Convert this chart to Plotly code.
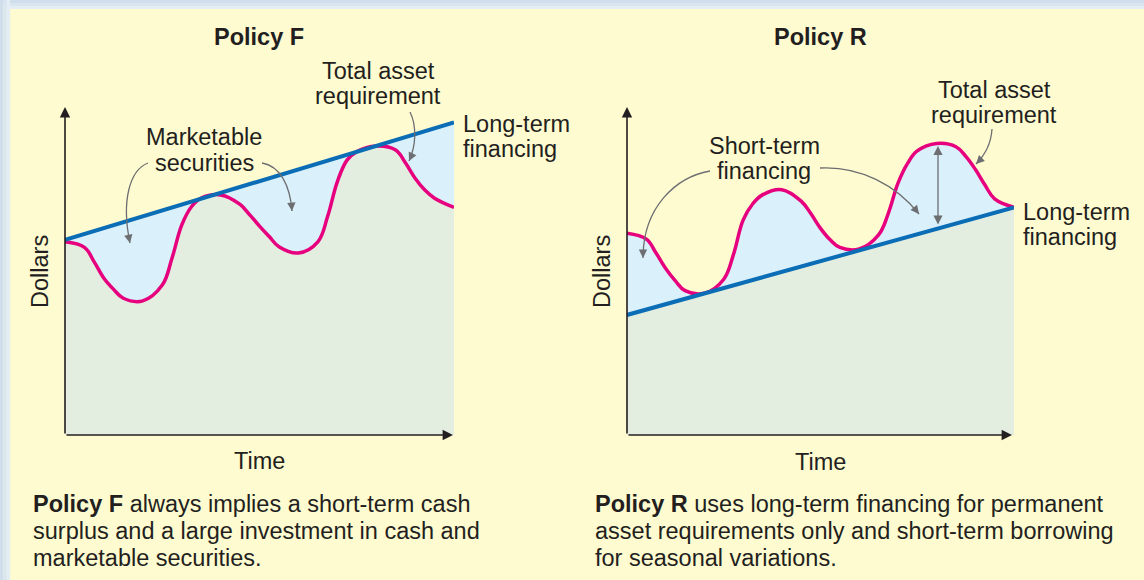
import plotly.graph_objects as go

# Policy F: total asset requirement
time_f = [0, 0.5, 0.75, 1, 1.25, 1.5, 2, 2.5, 2.75, 3, 3.25, 3.5, 4, 4.5, 4.75, 5, 5.25, 5.5,
          6, 6.5, 6.75, 7, 7.25, 7.5, 8, 8.5, 8.75, 9, 9.25, 9.5, 10]
assets_f = [5.89, 5.72, 5.28, 4.78, 4.44, 4.17, 4.09, 4.57, 5.39, 6.40, 6.96, 7.22, 7.32, 7.03,
            6.71, 6.37, 6.05, 5.74, 5.55, 5.89, 6.66, 7.72, 8.38, 8.64, 8.81, 8.69, 8.30, 7.83,
            7.47, 7.22, 6.94]
line_time_f = [0, 10]
longterm_f = [5.95, 9.53]

# Policy R
time_r = [0, 0.5, 0.75, 1, 1.25, 1.5, 2, 2.5, 2.75, 3, 3.25, 3.5, 4, 4.5, 4.75, 5, 5.25, 5.5,
          6, 6.5, 6.75, 7, 7.25, 7.5, 8, 8.5, 8.75, 9, 9.25, 9.5, 10]
assets_r = [6.15, 5.97, 5.55, 5.08, 4.70, 4.40, 4.32, 4.75, 5.50, 6.55, 7.05, 7.32, 7.48, 7.13,
            6.75, 6.30, 5.95, 5.72, 5.67, 6.10, 6.75, 7.67, 8.28, 8.66, 8.89, 8.79, 8.50, 8.10,
            7.62, 7.20, 6.94]
line_time_r = [0, 10]
longterm_r = [3.66, 6.94]

captions_f = ["<b>Policy F</b> always implies a short-term cash",
              "surplus and a large investment in cash and",
              "marketable securities."]
captions_r = ["<b>Policy R</b> uses long-term financing for permanent",
              "asset requirements only and short-term borrowing",
              "for seasonal variations."]

W, H = 1144, 580
YELLOW = "#fffbd0"
LIGHTBLUE = "#daf0fb"
GREEN = "#e3eee0"
PINK = "#e6007e"
BLUE = "#0b6db5"
INK = "#231f20"
GRAY = "#6d6e71"
FONT = "Liberation Sans, Arial, sans-serif"
FS = 23.5


def px(x):
    return x / W


def py(y):
    return 1 - y / H


fig = go.Figure()

# Policy F: blue band between long-term line and requirement, green below requirement
fig.add_trace(go.Scatter(x=line_time_f, y=longterm_f, mode="lines", fill="tozeroy",
                         fillcolor=LIGHTBLUE, line=dict(width=0), xaxis="x", yaxis="y"))
fig.add_trace(go.Scatter(x=time_f, y=assets_f, mode="lines", fill="tozeroy", fillcolor=GREEN,
                         line=dict(color=PINK, width=3.5, shape="spline", smoothing=1.1),
                         xaxis="x", yaxis="y"))
fig.add_trace(go.Scatter(x=line_time_f, y=longterm_f, mode="lines",
                         line=dict(color=BLUE, width=4), xaxis="x", yaxis="y"))

# Policy R
fig.add_trace(go.Scatter(x=time_r, y=assets_r, mode="lines", fill="tozeroy", fillcolor=LIGHTBLUE,
                         line=dict(color=PINK, width=3.5, shape="spline", smoothing=1.1),
                         xaxis="x2", yaxis="y2"))
fig.add_trace(go.Scatter(x=line_time_r, y=longterm_r, mode="lines", fill="tozeroy", fillcolor=GREEN,
                         line=dict(color=BLUE, width=4), xaxis="x2", yaxis="y2"))

ann = []


def text(s, x, y, xanchor="center", bold=False, angle=0):
    ann.append(dict(text=f"<b>{s}</b>" if bold else s, x=px(x), y=py(y), xref="paper", yref="paper",
                    xanchor=xanchor, yanchor="middle", showarrow=False, textangle=angle,
                    font=dict(family=FONT, size=FS, color=INK)))


def head(x, y, cx, cy, color=GRAY, width=1.2, size=1.4):
    # arrowhead at (x, y) pointing away from (cx, cy), pixel coords
    dx, dy = cx - x, cy - y
    n = (dx * dx + dy * dy) ** 0.5
    ann.append(dict(text="", x=px(x), y=py(y), xref="paper", yref="paper", showarrow=True,
                    ax=dx / n * 7, ay=dy / n * 7, arrowhead=2, arrowsize=size, arrowwidth=width,
                    arrowcolor=color, standoff=0))


shapes = []
# outer frame (light blue edge)
for i, c in enumerate(["#cfdeea", "#d9e6f0", "#e4edf4"]):
    shapes.append(dict(type="rect", xref="paper", yref="paper", x0=px(i * 3.4), x1=px(i * 3.4 + 3.4),
                       y0=0, y1=1, line=dict(width=0), fillcolor=c, layer="below"))
    shapes.append(dict(type="rect", xref="paper", yref="paper", x0=px(i * 3.4), x1=1,
                       y0=py(i * 3), y1=py(i * 3 + 3), line=dict(width=0), fillcolor=c, layer="below"))

curves = [
    ((148, 163), (130, 170), (121, 200), (130, 243)),
    ((262, 163), (280, 166), (290, 185), (292, 211)),
    ((410, 112), (417, 126), (416, 146), (409, 161)),
    ((710, 171), (676, 177), (643, 207), (643, 258)),
    ((820, 168), (860, 166), (896, 185), (919, 214)),
    ((992, 129), (991, 145), (985, 155), (976, 164)),
]
for p0, c1, c2, p1 in curves:
    path = (f"M {px(p0[0])},{py(p0[1])} C {px(c1[0])},{py(c1[1])} "
            f"{px(c2[0])},{py(c2[1])} {px(p1[0])},{py(p1[1])}")
    shapes.append(dict(type="path", xref="paper", yref="paper", path=path,
                       line=dict(color=GRAY, width=1.3)))
    head(p1[0], p1[1], c2[0], c2[1])

# double-headed arrow, Policy R
ann.append(dict(text="", x=px(938), y=py(146), xref="paper", yref="paper", showarrow=True,
                ax=0, ay=80, arrowhead=2, arrowside="end+start", arrowsize=1.4, arrowwidth=1.3,
                arrowcolor=GRAY, standoff=0, startstandoff=0, startarrowhead=2, startarrowsize=1.4))

# axes with arrows
for x0, x1 in [(65, 453), (627, 1012)]:
    ann.append(dict(text="", x=px(x0), y=py(107), xref="paper", yref="paper", showarrow=True,
                    ax=0, ay=328, arrowhead=2, arrowsize=1.3, arrowwidth=1.6, arrowcolor=INK, standoff=0))
    ann.append(dict(text="", x=px(x1), y=py(435), xref="paper", yref="paper", showarrow=True,
                    ax=-(x1 - x0), ay=0, arrowhead=2, arrowsize=1.3, arrowwidth=1.6, arrowcolor=INK,
                    standoff=0))

# labels
text("Policy F", 259, 37, bold=True)
text("Policy R", 820, 37, bold=True)
text("Total asset", 378, 71)
text("requirement", 378, 96)
text("Marketable", 204, 137)
text("securities", 204, 163)
text("Long-term", 461, 124, xanchor="left")
text("financing", 461, 149, xanchor="left")
text("Dollars", 40, 272, angle=-90)
text("Time", 259, 461)
text("Short-term", 764, 146)
text("financing", 764, 171)
text("Total asset", 994, 90)
text("requirement", 994, 115)
text("Long-term", 1021, 212, xanchor="left")
text("financing", 1021, 237, xanchor="left")
text("Dollars", 602, 272, angle=-90)
text("Time", 820, 462)
for i, s in enumerate(captions_f):
    text(s, 31, 504 + i * 27, xanchor="left")
for i, s in enumerate(captions_r):
    text(s, 593, 504 + i * 27, xanchor="left")

axis = dict(range=[0, 10], visible=False, fixedrange=True)
fig.update_layout(
    width=W, height=H, margin=dict(l=0, r=0, t=0, b=0),
    paper_bgcolor=YELLOW, plot_bgcolor="rgba(0,0,0,0)", showlegend=False,
    xaxis=dict(axis, domain=[px(65), px(454)]),
    yaxis=dict(axis, domain=[py(435), py(107)]),
    xaxis2=dict(axis, domain=[px(627), px(1014)]),
    yaxis2=dict(axis, domain=[py(435), py(107)]),
    shapes=shapes, annotations=ann,
)

fig.write_html("out.html", config={"displayModeBar": False},
               post_script="document.body.style.margin='0';")
